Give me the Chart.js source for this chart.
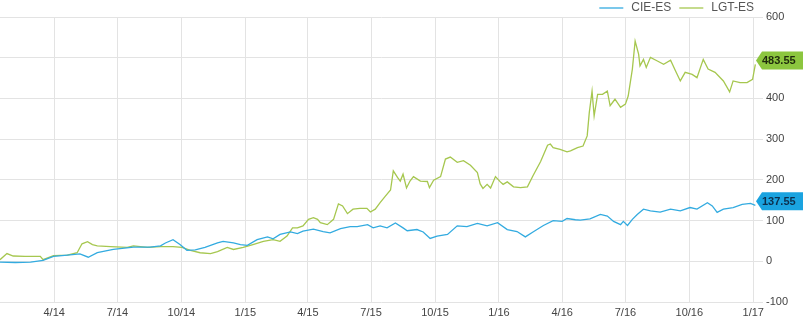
<!DOCTYPE html>
<html>
<head>
<meta charset="utf-8">
<script src="https://cdn.jsdelivr.net/npm/chart.js@4.4.1/dist/chart.umd.min.js"></script>
<style>
  html, body { margin: 0; padding: 0; background: #fff; }
  #wrap { width: 803px; height: 325px; }
</style>
</head>
<body>
<div id="wrap"><canvas id="stockChart"></canvas></div>
<script>
// days counted from 2014-01-01
const quarterDays = [90, 181, 273, 365, 455, 546, 638, 730, 821, 912, 1004, 1096];
const quarterLabels = ["4/14", "7/14", "10/14", "1/15", "4/15", "7/15", "10/15", "1/16", "4/16", "7/16", "10/16", "1/17"];
const valueTicks = [-100, 0, 100, 200, 300, 400, 500, 600];

const cieDays = [12, 34, 56, 74, 89, 109, 127, 139, 152, 175, 204, 228, 243, 250, 261, 271, 281, 293, 307, 325,
  333, 348, 358, 368, 382, 397, 405, 415, 430, 440, 448, 463, 477, 487, 502, 516, 526, 541, 549, 559,
  569, 581, 592, 598, 612, 621, 631, 641, 656, 670, 684, 699, 713, 728, 742, 756, 768, 779, 794, 808,
  821, 828, 840, 847, 861, 876, 886, 895, 905, 909, 915, 922, 929, 938, 948, 962, 977, 991, 1005, 1015,
  1030, 1037, 1044, 1053, 1067, 1080, 1092, 1099];
const cieValues = [-2, -3, -2, 2, 12, 15, 18, 10, 21, 29, 35, 35, 38, 45, 53, 41, 27, 28, 34, 45,
  49, 45, 41, 39, 53, 60, 55, 66, 72, 68, 74, 79, 73, 70, 80, 85, 85, 90, 82, 87,
  82, 94, 82, 75, 78, 72, 56, 62, 66, 87, 85, 93, 87, 95, 78, 73, 60, 72, 88, 100,
  98, 105, 102, 101, 104, 115, 111, 98, 90, 98, 88, 103, 115, 128, 124, 121, 128, 124, 132, 128,
  144, 136, 120, 128, 132, 140, 142, 137.55];

const lgtDays = [12, 22, 31, 48, 70, 74, 89, 109, 123, 130, 138, 145, 152, 171, 195, 204, 224, 243, 261, 274,
  286, 300, 315, 325, 339, 348, 362, 376, 391, 405, 415, 425, 433, 440, 448, 456, 463, 469, 473, 483,
  492, 499, 505, 512, 520, 530, 540, 545, 552, 559, 566, 574, 578, 584, 588, 592, 597, 602, 607, 617,
  627, 630, 636, 646, 653, 660, 670, 679, 689, 699, 703, 707, 713, 718, 725, 732, 736, 742, 751, 761,
  771, 779, 790, 800, 804, 808, 818, 828, 833, 843, 851, 857, 860, 864, 867, 872, 879, 886, 890, 897,
  905, 912, 916, 922, 926, 931, 933, 938, 942, 948, 958, 967, 977, 984, 991, 998, 1008, 1015, 1024, 1031,
  1041, 1053, 1062, 1067, 1077, 1087, 1095, 1099];
const lgtValues = [4, 19, 13, 12, 12, 4, 14, 15, 21, 43, 48, 41, 38, 36, 34, 38, 34, 36, 36, 34,
  27, 21, 19, 24, 34, 29, 34, 41, 49, 53, 49, 62, 82, 82, 87, 103, 107, 103, 95, 90,
  103, 141, 136, 117, 128, 130, 130, 121, 128, 144, 159, 175, 222, 206, 197, 214, 180, 197, 208, 197,
  196, 181, 199, 208, 251, 256, 243, 247, 236, 218, 190, 179, 189, 180, 208, 195, 189, 195, 183, 181,
  183, 210, 245, 285, 288, 279, 275, 269, 271, 279, 283, 308, 365, 418, 357, 410, 410, 418, 382, 398,
  378, 386, 406, 472, 541, 509, 480, 496, 476, 501, 492, 484, 494, 468, 443, 464, 459, 451, 496, 472,
  464, 443, 416, 443, 439, 439, 447, 483.55];

const cieColor = '#33abe0';
const lgtColor = '#a6c74f';

function toPoints(days, values) {
    return days.map((d, i) => ({ x: d, y: values[i] }));
}

// legend drawn in the top right corner, above the plot
const topLegend = {
    id: 'topLegend',
    afterDraw(chart) {
        const ctx = chart.ctx;
        ctx.save();
        ctx.font = '12px Arial, "Liberation Sans", sans-serif';
        ctx.textBaseline = 'middle';
        let x = 754;
        const y = 8;
        const items = chart.data.datasets.slice().reverse();
        items.forEach(ds => {
            const w = ctx.measureText(ds.label).width;
            x -= w;
            ctx.fillStyle = '#555';
            ctx.fillText(ds.label, x, y);
            x -= 8;
            ctx.strokeStyle = ds.borderColor;
            ctx.lineWidth = 1.3;
            ctx.beginPath();
            ctx.moveTo(x - 24, y);
            ctx.lineTo(x, y);
            ctx.stroke();
            x -= 24 + 8;
        });
        ctx.restore();
    }
};

// last value flags on the right axis
const lastFlags = {
    id: 'lastFlags',
    afterDraw(chart) {
        const ctx = chart.ctx;
        const yScale = chart.scales.y;
        ctx.save();
        ctx.font = 'bold 11px Arial, "Liberation Sans", sans-serif';
        ctx.textBaseline = 'middle';
        chart.data.datasets.forEach(ds => {
            const last = ds.data[ds.data.length - 1].y;
            const y = yScale.getPixelForValue(last) - 4;
            ctx.fillStyle = ds.flagColor;
            ctx.beginPath();
            ctx.moveTo(756, y);
            ctx.lineTo(762, y - 9);
            ctx.lineTo(803, y - 9);
            ctx.lineTo(803, y + 9);
            ctx.lineTo(762, y + 9);
            ctx.closePath();
            ctx.fill();
            ctx.fillStyle = ds.flagText;
            ctx.fillText(last.toFixed(2), 762, y + 1);
        });
        ctx.restore();
    }
};

document.addEventListener("DOMContentLoaded", function() {
    let ctx = document.getElementById('stockChart').getContext('2d');
    new Chart(ctx, {
        type: 'line',
        data: {
            datasets: [{
                label: "CIE-ES",
                data: toPoints(cieDays, cieValues),
                borderColor: cieColor,
                flagColor: '#1aa3e0',
                flagText: '#0c2f4d',
                borderWidth: 1.3,
                pointRadius: 0,
                tension: 0
            }, {
                label: "LGT-ES",
                data: toPoints(lgtDays, lgtValues),
                borderColor: lgtColor,
                flagColor: '#8cc63f',
                flagText: '#1f2a0c',
                borderWidth: 1.3,
                pointRadius: 0,
                tension: 0
            }]
        },
        options: {
            responsive: true,
            maintainAspectRatio: false,
            animation: false,
            layout: { padding: { top: 17, left: 0, right: 0, bottom: 0 } },
            plugins: {
                legend: { display: false },
                tooltip: { enabled: false }
            },
            scales: {
                x: {
                    type: 'linear',
                    min: 12,
                    max: 1110,
                    afterBuildTicks: axis => {
                        axis.ticks = quarterDays.map(v => ({ value: v }));
                    },
                    afterFit: axis => { axis.height = 23; },
                    ticks: {
                        autoSkip: false,
                        maxRotation: 0,
                        padding: 4,
                        color: '#444',
                        font: { family: 'Arial, "Liberation Sans", sans-serif', size: 11 },
                        callback: v => quarterLabels[quarterDays.indexOf(v)]
                    },
                    grid: { color: '#e3e3e3', drawTicks: false },
                    border: { display: false }
                },
                y: {
                    position: 'right',
                    min: -100,
                    max: 600,
                    afterBuildTicks: axis => {
                        axis.ticks = valueTicks.map(v => ({ value: v }));
                    },
                    afterFit: axis => { axis.width = 40; },
                    ticks: {
                        padding: 3,
                        color: '#444',
                        font: { family: 'Arial, "Liberation Sans", sans-serif', size: 11 }
                    },
                    grid: { color: '#e3e3e3', drawTicks: false },
                    border: { display: false }
                }
            }
        },
        plugins: [topLegend, lastFlags]
    });
});
</script>
</body>
</html>
